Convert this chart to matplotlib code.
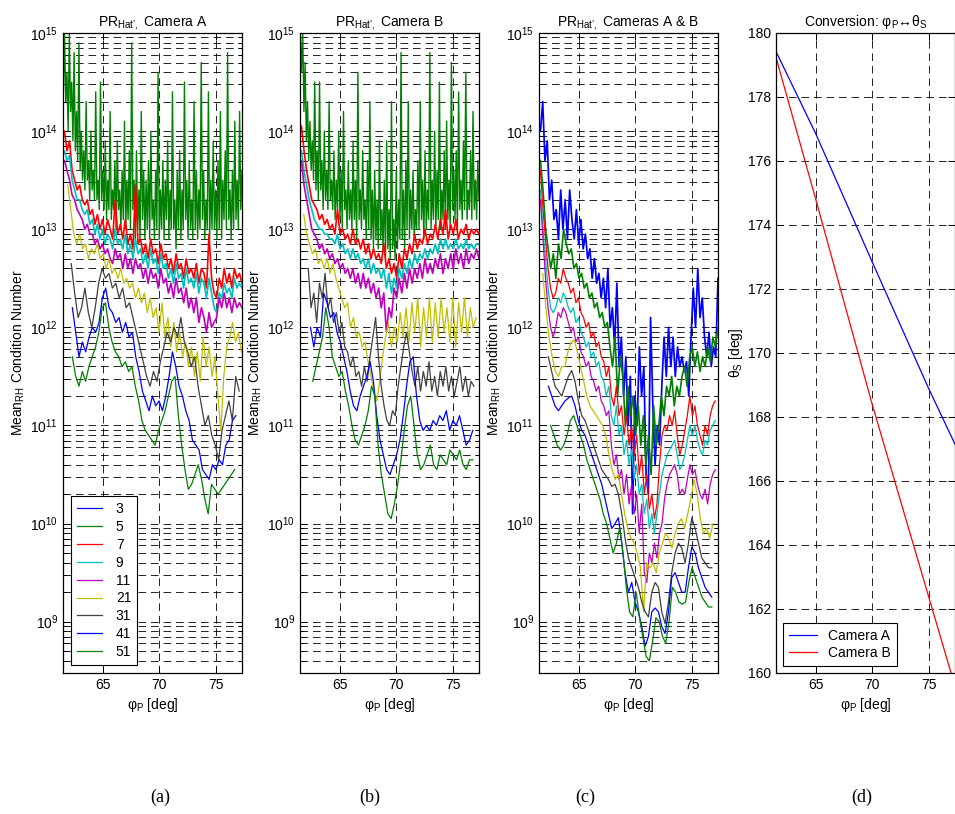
import numpy as np
import matplotlib
matplotlib.use('Agg')
import matplotlib.pyplot as plt
from matplotlib.ticker import FixedLocator, NullFormatter, MultipleLocator

plt.rcParams['font.family'] = ['Liberation Sans', 'DejaVu Sans']
plt.rcParams['font.size'] = 10
plt.rcParams['mathtext.fontset'] = 'custom'
plt.rcParams['mathtext.rm'] = 'Liberation Sans'
plt.rcParams['mathtext.it'] = 'Liberation Sans:italic'
plt.rcParams['mathtext.bf'] = 'Liberation Sans:bold'
plt.rcParams['lines.scale_dashes'] = False

# legend entries (window sizes) and matlab-like colours
windows = ['3', '5', '7', '9', '11', '21', '31', '41', '51']
colors = [(0, 0, 1), (0, 0.5, 0), (1, 0, 0), (0, 0.75, 0.75), (0.75, 0, 0.75),
          (0.75, 0.75, 0), (0.25, 0.25, 0.25), (0, 0, 1), (0, 0.5, 0)]

# ---- Camera A : log10 of mean condition number ----
# window 3 is above the plotted range for the single cameras
a_w3 = []
a_w5 = [14.4, 15.0, 14.3, 14.6, 14.0, 15.0, 14.2, 14.5, 13.9, 14.8, 13.8, 14.2, 13.7, 14.9,
        13.6, 14.0, 13.5, 13.8, 13.4, 14.3, 13.5, 13.7, 13.3, 14.0, 13.4, 13.6, 13.3, 14.4,
        13.3, 13.5, 13.2, 14.5, 13.3, 13.6, 13.2, 13.9, 13.1, 13.5, 13.2, 14.2, 13.1, 13.4,
        13.2, 13.7, 13.0, 13.9, 13.2, 13.4, 13.0, 13.6, 13.1, 14.1, 13.0, 13.5, 13.1, 13.8,
        13.0, 14.9, 13.2, 13.5, 12.9, 13.8, 13.0, 13.4, 12.9, 14.2, 13.1, 13.6, 12.9, 13.5,
        13.0, 13.7, 12.9, 14.0, 13.1, 13.3, 12.9, 13.6, 13.0, 14.6, 12.9, 13.4, 13.0, 13.7,
        12.9, 13.5, 13.1, 13.9, 12.9, 13.4, 13.0, 14.4, 13.0, 13.3, 12.8, 13.6, 13.0, 13.8,
        12.9, 13.4, 13.0, 14.5, 13.1, 13.5, 12.9, 13.7, 13.0, 13.3, 12.9, 14.3, 13.0, 13.6,
        12.9, 13.4, 13.0, 14.7, 13.1, 13.6, 12.9, 13.3, 13.0, 14.4, 12.9, 13.5, 13.0, 13.9,
        13.0, 13.4, 12.9, 13.7, 13.0, 14.2, 12.9, 13.5, 13.1, 13.8, 13.0, 14.8, 13.1, 13.4,
        12.9, 13.6, 13.0, 14.1, 13.1, 13.5, 13.0, 14.2, 13.2, 13.6]
a_w7 = [14.0, 13.8, 13.9, 13.6, 13.5, 13.4, 13.45, 13.3, 13.25, 13.3,
        13.15, 13.2, 13.05, 13.15, 13.0, 13.1, 12.95, 13.1, 13.0, 12.9,
        13.3, 12.95, 13.05, 12.9, 13.1, 12.85, 12.95, 12.8, 13.45, 12.85,
        12.9, 12.75, 12.85, 12.7, 12.9, 12.75, 12.8, 12.65, 12.85, 12.7,
        12.75, 12.6, 12.7, 12.55, 12.75, 12.6, 12.65, 12.5, 12.7, 12.55,
        12.6, 12.5, 12.65, 12.45, 12.6, 12.55, 12.4, 12.95, 12.5, 12.35,
        12.3, 12.5, 12.4, 12.6, 12.45, 12.55, 12.4, 12.6, 12.5, 12.55, 12.45]
a_w9 = [13.8, 13.7, 13.75, 13.5, 13.4, 13.3, 13.3, 13.2, 13.15, 13.2,
        13.05, 13.1, 12.95, 13.05, 12.9, 13.0, 12.85, 12.95, 12.9, 12.8,
        13.0, 12.85, 12.9, 12.8, 12.95, 12.75, 12.85, 12.7, 12.9, 12.75,
        12.8, 12.65, 12.75, 12.6, 12.8, 12.65, 12.7, 12.55, 12.75, 12.6,
        12.65, 12.5, 12.6, 12.45, 12.65, 12.5, 12.55, 12.4, 12.6, 12.45,
        12.5, 12.4, 12.55, 12.35, 12.5, 12.45, 12.3, 12.5, 12.35, 12.2,
        12.15, 12.35, 12.3, 12.45, 12.35, 12.4, 12.3, 12.5, 12.4, 12.45, 12.4]
a_w11 = [13.7, 13.6, 13.5, 13.35, 13.3, 13.2, 13.15, 13.1, 13.0, 13.05,
         12.95, 12.95, 12.85, 12.9, 12.8, 12.85, 12.75, 12.8, 12.7, 12.65,
         12.8, 12.7, 12.75, 12.6, 12.75, 12.6, 12.7, 12.55, 12.7, 12.6,
         12.65, 12.5, 12.6, 12.45, 12.6, 12.5, 12.55, 12.4, 12.6, 12.45,
         12.5, 12.35, 12.45, 12.3, 12.5, 12.35, 12.4, 12.25, 12.4, 12.2,
         12.3, 12.15, 12.3, 12.05, 12.2, 12.1, 11.95, 12.15, 12.0, 12.05,
         12.1, 12.3, 12.2, 12.35, 12.2, 12.3, 12.15, 12.3, 12.2, 12.25, 12.2]
a_w21 = [13.45, 13.2, 12.95, 12.85, 12.95, 12.8, 12.85, 12.7, 12.8,
         12.75, 12.85, 12.7, 12.75, 12.6, 12.7, 12.55, 12.6, 12.5,
         12.6, 12.45, 12.5, 12.4, 12.45, 12.3, 12.4, 12.25, 12.35,
         12.15, 12.3, 12.1, 12.2, 11.95, 12.25, 11.9, 12.1, 11.8,
         12.05, 11.75, 11.95, 11.7, 11.85, 11.6, 11.8, 11.5, 11.75,
         11.45, 11.9, 11.6, 11.8, 11.5, 11.7, 11.3, 10.95, 11.5,
         11.8, 11.9, 12.05, 11.85, 11.95, 11.75]
a_w31 = [12.65, 12.35, 12.1, 12.2, 12.4, 12.15, 12.0, 12.2, 12.45, 12.6,
         12.5, 12.55, 12.4, 12.45, 12.3, 12.4, 12.2, 12.25, 12.1, 11.95,
         11.8, 11.65, 11.5, 11.4, 11.55, 11.45, 11.65, 11.8, 11.95, 11.85,
         12.0, 11.9, 12.1, 11.85, 11.75, 11.6, 11.7, 11.4, 11.2, 11.0,
         11.1, 10.9, 10.8, 10.65, 10.95, 11.1, 11.25, 11.05, 11.5, 11.35]
a_w41 = [12.2, 11.95, 11.7, 11.85, 11.75, 11.9, 12.0, 11.95, 12.05, 12.3,
         12.4, 12.2, 12.15, 12.05, 12.1, 11.95, 12.05, 11.9, 11.95, 11.7,
         11.55, 11.35, 11.25, 11.15, 11.3, 11.2, 11.25, 11.15, 11.3, 11.5,
         11.75, 11.6, 11.4, 11.3, 11.15, 11.05, 10.85, 10.8, 10.75, 10.55,
         10.5, 10.45, 10.6, 10.55, 10.65, 10.6, 10.8, 10.85, 11.05, 11.1]
a_w51 = [11.7, 11.5, 11.4, 11.55, 11.45, 11.6, 11.7, 11.8, 11.95, 12.2,
         12.25, 12.0, 11.85, 11.75, 11.7, 11.6, 11.65, 11.55, 11.6, 11.4,
         11.25, 11.05, 10.95, 10.9, 10.85, 10.8, 10.95, 11.05, 11.15, 11.3,
         11.45, 11.5, 11.1, 10.8, 10.55, 10.35, 10.4, 10.5, 10.6, 10.45,
         10.25, 10.1, 10.4, 10.35, 10.3, 10.35, 10.4, 10.45, 10.5, 10.55]

# ---- Camera B ----
b_w3 = []
b_w5 = [15.0, 14.6, 15.0, 14.2, 14.7, 13.9, 14.3, 13.7, 14.1, 13.6, 13.9, 13.5, 14.5, 13.4,
        13.8, 13.3, 14.5, 13.4, 13.7, 13.2, 14.0, 13.3, 13.6, 13.2, 14.3, 13.3, 13.5, 13.2,
        13.8, 13.1, 13.5, 13.2, 14.0, 13.1, 13.6, 13.0, 14.2, 13.2, 13.4, 13.0, 13.7, 13.1,
        13.4, 13.0, 13.9, 13.1, 13.5, 12.9, 14.6, 13.1, 13.4, 13.0, 13.8, 13.1, 13.3, 12.9,
        13.7, 13.0, 14.3, 12.9, 13.4, 12.8, 13.6, 12.9, 13.3, 12.8, 13.9, 12.9, 13.2, 12.8,
        13.5, 12.7, 13.9, 12.8, 13.2, 12.7, 14.3, 12.8, 13.1, 12.7, 13.6, 12.8, 13.3, 12.9,
        14.8, 12.9, 13.4, 12.8, 13.7, 13.0, 14.3, 12.9, 13.4, 13.0, 13.6, 12.9, 13.2, 13.0,
        13.7, 13.0, 14.3, 13.1, 13.5, 12.9, 13.8, 13.0, 13.4, 13.1, 14.8, 13.0, 13.5, 13.1,
        14.0, 13.0, 13.6, 13.1, 14.5, 13.0, 13.4, 13.1, 13.8, 13.0, 14.1, 13.1, 13.5, 13.0,
        14.7, 13.2, 13.6, 13.1, 13.8, 13.0, 14.4, 13.2, 13.5, 13.1, 13.9, 13.2, 14.6, 13.1,
        13.4, 13.2, 13.8, 13.1, 14.2, 13.2, 13.5, 13.1, 13.7, 13.3]
b_w7 = [14.05, 13.8, 13.6, 13.45, 13.3, 13.25, 13.2, 13.1, 13.15, 13.05,
        13.1, 13.0, 13.05, 12.95, 13.2, 12.95, 13.0, 12.9, 12.95, 12.85,
        13.0, 12.85, 12.9, 12.8, 12.9, 12.75, 12.85, 12.7, 12.8, 12.7,
        12.75, 12.65, 12.85, 12.6, 12.7, 12.55, 12.65, 12.5, 12.75, 12.6,
        12.8, 12.7, 12.85, 12.75, 12.95, 12.8, 12.9, 12.85, 13.0, 12.85,
        12.95, 12.9, 13.05, 12.9, 13.1, 12.95, 13.2, 12.9, 13.05, 12.95,
        13.1, 12.9, 13.0, 12.95, 13.05, 12.9, 13.0, 12.95, 13.0, 12.95]
b_w9 = [13.8, 13.6, 13.45, 13.3, 13.2, 13.1, 13.05, 13.0, 13.0, 12.95,
        12.95, 12.9, 12.9, 12.85, 12.95, 12.8, 12.85, 12.75, 12.8, 12.7,
        12.8, 12.7, 12.75, 12.65, 12.7, 12.6, 12.7, 12.55, 12.65, 12.55,
        12.6, 12.5, 12.6, 12.4, 12.55, 12.35, 12.5, 12.4, 12.6, 12.5,
        12.65, 12.55, 12.7, 12.6, 12.75, 12.65, 12.75, 12.7, 12.8, 12.7,
        12.8, 12.75, 12.85, 12.75, 12.9, 12.8, 12.9, 12.8, 12.85, 12.8,
        12.9, 12.8, 12.85, 12.8, 12.9, 12.8, 12.85, 12.8, 12.85, 12.85]
b_w11 = [13.7, 13.45, 13.3, 13.15, 13.0, 12.95, 12.9, 12.8, 12.85, 12.75,
         12.8, 12.7, 12.75, 12.65, 12.7, 12.6, 12.65, 12.55, 12.6, 12.5,
         12.6, 12.45, 12.55, 12.4, 12.55, 12.4, 12.5, 12.35, 12.45, 12.3,
         12.4, 12.2, 12.35, 11.95, 12.2, 12.1, 12.4, 12.3, 12.5, 12.35,
         12.55, 12.4, 12.6, 12.45, 12.6, 12.5, 12.65, 12.5, 12.7, 12.55,
         12.65, 12.55, 12.7, 12.6, 12.75, 12.55, 12.7, 12.6, 12.75, 12.6,
         12.8, 12.65, 12.75, 12.6, 12.8, 12.65, 12.75, 12.7, 12.8, 12.7]
b_w21 = [13.15, 12.95, 12.85, 12.75, 12.8, 12.65, 12.7, 12.6, 12.7, 12.55,
         12.65, 12.5, 12.4, 12.3, 12.2, 12.25, 12.0, 12.1, 11.9, 11.95,
         11.8, 11.85, 11.65, 11.5, 11.35, 11.25, 11.45, 11.7, 11.9, 12.05,
         11.8, 12.0, 11.85, 12.15, 11.9, 12.2, 11.85, 12.25, 11.95, 12.3,
         11.8, 12.2, 11.9, 12.3, 11.85, 12.25, 11.9, 12.3, 11.95, 12.2,
         11.85, 12.3, 11.8, 12.25, 11.95, 12.3, 11.9, 12.2, 12.0, 12.1]
b_w31 = [12.6, 12.2, 12.35, 12.05, 12.45, 12.3, 12.55, 12.2, 12.3, 12.05,
         12.15, 11.95, 12.05, 11.8, 11.75, 11.6, 11.7, 11.5, 11.55, 11.4,
         11.6, 11.45, 11.7, 11.9, 12.1, 11.7, 11.4, 11.2, 11.05, 11.0,
         11.15, 11.1, 11.4, 11.6, 11.8, 11.95, 11.75, 11.55, 11.4, 11.6,
         11.35, 11.55, 11.4, 11.65, 11.35, 11.5, 11.3, 11.55, 11.4, 11.6,
         11.35, 11.5, 11.3, 11.45, 11.6, 11.35, 11.5, 11.3, 11.45, 11.4]
b_w41 = [12.0, 11.8, 12.0, 11.9, 12.35, 12.25, 12.1, 12.15, 11.95, 11.85,
         11.7, 11.55, 11.35, 11.2, 11.15, 11.3, 11.4, 11.5, 11.65, 11.45,
         11.1, 10.85, 10.7, 10.55, 10.5, 10.6, 10.7, 10.85, 11.1, 11.4,
         11.65, 11.7, 11.3, 11.05, 10.95, 11.0, 10.95, 11.05, 11.0, 11.1,
         11.05, 11.15, 10.95, 11.05, 11.0, 11.1, 10.95, 10.8, 10.85, 10.95]
b_w51 = [11.45, 11.6, 11.75, 11.9, 12.2, 12.0, 11.7, 11.6, 11.5, 11.55,
         11.35, 11.2, 11.0, 10.85, 10.8, 10.9, 11.0, 11.15, 11.4, 11.3,
         10.8, 10.5, 10.3, 10.1, 10.05, 10.2, 10.4, 10.65, 10.95, 11.2,
         11.3, 11.0, 10.7, 10.55, 10.6, 10.7, 10.8, 10.6, 10.55, 10.7,
         10.65, 10.6, 10.75, 10.7, 10.65, 10.75, 10.6, 10.55, 10.65, 10.65]

# ---- Cameras A & B ----
c_w3 = [14.0, 14.3, 13.7, 13.9, 13.3, 13.5, 13.1, 13.2, 12.9, 13.4,
        13.0, 13.3, 12.9, 13.4, 13.1, 12.9, 13.2, 12.85, 13.1, 12.8,
        12.95, 12.7, 12.8, 12.5, 12.7, 12.45, 12.55, 12.3, 12.5, 12.2,
        12.6, 12.0, 12.2, 11.8, 12.45, 11.6, 11.9, 11.3, 11.7, 11.0,
        11.5, 10.1, 11.3, 11.0, 11.8, 11.3, 11.6, 10.5, 10.3, 12.1,
        11.2, 10.6, 11.0, 10.8, 11.4, 11.9, 11.5, 12.0, 11.6, 11.9,
        11.5, 11.8, 11.6, 11.7, 11.55, 11.65, 11.3, 11.9, 12.4, 12.0,
        12.6, 12.1, 12.3, 11.9, 11.7, 11.95, 11.6, 11.8, 11.7, 12.5]
c_w5 = [13.7, 13.4, 13.0, 12.8, 12.6, 12.75, 12.5, 12.85, 12.7, 13.0,
        12.85, 12.75, 12.8, 12.6, 12.65, 12.5, 12.55, 12.4, 12.45, 12.3,
        12.35, 12.2, 12.25, 12.1, 12.15, 12.0, 12.05, 11.8, 11.6, 11.9,
        11.3, 11.7, 11.5, 11.0, 11.4, 11.1, 11.3, 10.9, 11.2, 10.8,
        11.1, 10.6, 10.9, 10.5, 11.2, 10.8, 11.0, 11.3, 11.1, 11.4,
        11.3, 11.5, 11.2, 11.4, 11.3, 11.5, 11.6, 11.4, 11.7, 11.8,
        11.6, 11.75, 11.55, 11.7, 11.6, 11.8, 11.65, 11.9, 11.8, 12.0]
c_w7 = [13.6, 13.2, 12.9, 12.6, 12.4, 12.3, 12.35, 12.5, 12.45, 12.6,
        12.5, 12.45, 12.35, 12.4, 12.25, 12.3, 12.15, 12.1, 12.0, 12.05,
        11.9, 11.95, 11.8, 11.85, 11.7, 11.65, 11.5, 11.6, 11.3, 11.2,
        11.4, 11.1, 11.2, 10.9, 11.1, 10.8, 11.0, 10.7, 10.9, 10.5,
        10.7, 10.3, 10.5, 10.15, 10.3, 10.05, 10.2, 10.6, 10.9, 11.0,
        10.95, 11.1, 11.0, 11.15, 10.9, 10.7, 10.8, 10.95, 11.1, 11.3,
        11.1, 11.2, 11.0, 10.9, 10.8, 11.0, 10.9, 11.1, 11.2, 11.25]
c_w9 = [13.4, 13.0, 12.7, 12.4, 12.2, 12.15, 12.2, 12.3, 12.25, 12.35,
        12.3, 12.2, 12.15, 12.2, 12.05, 12.1, 11.95, 11.9, 11.8, 11.85,
        11.7, 11.75, 11.6, 11.65, 11.5, 11.45, 11.3, 11.4, 11.1, 11.0,
        11.2, 10.9, 11.0, 10.7, 10.85, 10.6, 10.75, 10.45, 10.6, 10.3,
        10.4, 10.1, 10.25, 9.95, 10.1, 9.9, 10.1, 10.3, 10.5, 10.6,
        10.7, 10.75, 10.8, 10.85, 10.7, 10.55, 10.6, 10.7, 10.85, 11.0,
        10.9, 11.0, 10.85, 10.75, 10.7, 10.85, 10.8, 10.95, 11.0, 11.05]
c_w11 = [13.3, 12.9, 12.5, 12.2, 12.0, 11.9, 12.0, 12.15, 12.1, 12.2,
         12.15, 12.05, 11.95, 12.0, 11.85, 11.9, 11.75, 11.7, 11.6, 11.65,
         11.5, 11.45, 11.35, 11.4, 11.25, 11.2, 11.1, 11.15, 10.8, 10.6,
         10.7, 10.45, 10.55, 10.3, 10.5, 10.2, 10.4, 10.1, 10.3, 9.9,
         10.2, 9.5, 9.4, 9.7, 9.6, 9.8, 9.65, 9.9, 10.0, 10.25,
         10.4, 10.5, 10.55, 10.6, 10.5, 10.3, 10.35, 10.3, 10.45, 10.6,
         10.5, 10.55, 10.4, 10.3, 10.25, 10.35, 10.2, 10.4, 10.5, 10.55]
c_w21 = [12.55, 12.2, 11.9, 11.7, 11.55, 11.5, 11.6, 11.6, 11.75, 11.85,
         11.87, 11.75, 11.6, 11.45, 11.3, 11.2, 11.15, 11.1, 11.05, 11.0,
         10.9, 10.7, 10.55, 10.45, 10.5, 10.3, 10.1, 9.95, 9.85, 9.8,
         9.7, 9.55, 9.1, 9.6, 9.55, 9.6, 9.5, 9.7, 9.8, 9.9,
         9.85, 9.75, 9.9, 10.0, 10.05, 9.95, 10.1, 10.25, 10.45, 10.3,
         10.05, 9.9, 9.95, 9.85, 10.0]
c_w31 = [11.7, 11.55, 11.4, 11.35, 11.3, 11.4, 11.5, 11.56, 11.45, 11.25,
         11.1, 11.05, 10.95, 10.85, 10.75, 10.65, 10.55, 10.5, 10.45, 10.38,
         10.4, 10.3, 10.1, 9.85, 9.65, 9.55, 9.45, 9.35, 9.2, 9.1,
         9.05, 9.3, 9.4, 9.35, 9.1, 8.98, 9.2, 9.5, 9.7, 9.8,
         9.75, 9.6, 9.8, 10.06, 9.95, 9.8, 9.65, 9.6, 9.55, 9.55]
c_w41 = [11.4, 11.3, 11.2, 11.15, 11.2, 11.25, 11.28, 11.3, 11.2, 11.05,
         10.95, 10.9, 10.8, 10.7, 10.6, 10.5, 10.4, 10.25, 10.1, 9.95,
         10.0, 10.06, 9.8, 9.5, 9.3, 9.4, 9.2, 9.1, 8.95, 8.75,
         8.85, 9.1, 9.14, 9.1, 8.95, 8.88, 9.1, 9.45, 9.5, 9.4,
         9.3, 9.3, 9.55, 9.76, 9.7, 9.55, 9.45, 9.35, 9.3, 9.25]
c_w51 = [11.0, 10.9, 10.8, 10.75, 10.8, 10.9, 11.05, 11.1, 11.0, 10.9,
         10.8, 10.65, 10.55, 10.45, 10.35, 10.25, 10.1, 10.0, 9.85, 9.7,
         9.8, 9.96, 9.7, 9.35, 9.1, 9.05, 9.3, 9.05, 8.85, 8.65,
         8.6, 8.8, 9.04, 9.0, 8.85, 8.78, 9.0, 9.35, 9.3, 9.2,
         9.18, 9.2, 9.4, 9.55, 9.45, 9.35, 9.25, 9.2, 9.15, 9.15]

# angular span (phi_P, deg) of each trace, in window order
a_span = [(61.5, 77.35), (61.5, 77.35), (61.6, 77.35), (61.6, 77.35), (61.6, 77.35),
          (61.9, 77.3), (62.2, 77.1), (62.3, 76.8), (62.3, 76.7)]
b_span = [(61.5, 77.35), (61.5, 77.35), (61.6, 77.35), (61.6, 77.35), (61.6, 77.35),
          (61.8, 77.1), (62.2, 76.9), (62.4, 76.8), (62.6, 76.8)]
c_span = [(61.6, 77.35), (61.6, 77.35), (61.6, 77.1), (61.6, 77.1), (61.6, 77.1),
          (61.8, 76.9), (62.3, 76.8), (62.3, 76.8), (62.5, 76.8)]

# ---- conversion phi_P -> theta_S ----
conv_phi_a = [61.5, 65.0, 70.0, 75.0, 77.35]
conv_theta_a = [179.4, 176.85, 172.85, 168.9, 167.15]
conv_phi_b = [61.5, 65.0, 70.0, 75.0, 77.0]
conv_theta_b = [179.2, 174.8, 168.4, 162.4, 160.0]

W, H = 955, 814
fig = plt.figure(figsize=(W / 100, H / 100), dpi=100)

XLIM = (61.47, 77.35)
dash = (0, (5.5, 3.5))

# log ticks inside the 3e8 .. 1e15 window
major_y = [10.0 ** e for e in range(9, 16)]
minor_y = [k * 10.0 ** e for e in range(8, 15) for k in range(2, 10) if k * 10.0 ** e >= 3e8]


def frame(left_px):
    ax = fig.add_axes([left_px / W, 1 - 673 / H, 179 / W, 640 / H])
    ax.set_xlim(*XLIM)
    ax.set_xticks([65, 70, 75])
    ax.tick_params(which='both', direction='in', top=True, right=True, labelsize=10)
    ax.tick_params(which='major', length=5, width=0.7)
    ax.tick_params(which='minor', length=3, width=0.7)
    for s in ax.spines.values():
        s.set_linewidth(0.9)
    ax.set_xlabel('φ$_\\mathregular{P}$ [deg]', labelpad=3)
    return ax


def log_panel(left_px, series, spans, title, widths, legend=False):
    ax = frame(left_px)
    ax.set_yscale('log')
    ax.set_ylim(3e8, 1e15)
    ax.yaxis.set_major_locator(FixedLocator(major_y))
    ax.yaxis.set_minor_locator(FixedLocator(minor_y))
    ax.yaxis.set_minor_formatter(NullFormatter())
    ax.grid(True, which='both', axis='y', color='k', linestyle=dash, linewidth=0.6)
    ax.grid(True, which='major', axis='x', color='k', linestyle=dash, linewidth=0.6)
    for vals, (x0, x1), col, lab in zip(series, spans, colors, windows):
        v = np.asarray(vals, dtype=float)
        xs = np.linspace(x0, x1, len(v))
        ax.plot(xs, 10 ** v, color=col, linewidth=widths.get(lab, 0.9), label=lab)
    ax.set_title(title, fontsize=10, pad=5)
    ax.set_ylabel('Mean$_\\mathregular{RH}$ Condition Number', labelpad=2)
    if legend:
        leg = ax.legend(loc='lower left', fontsize=10, handlelength=1.8,
                        handletextpad=1.0, labelspacing=0.28, borderpad=0.4,
                        borderaxespad=0.6, fancybox=False, framealpha=1,
                        edgecolor='k')
        leg.get_frame().set_linewidth(0.8)
        for h in leg.get_lines():
            h.set_linewidth(0.9)
    return ax


single_w = {'5': 1.0, '7': 1.2, '9': 1.2, '11': 1.2}
log_panel(63, [a_w3, a_w5, a_w7, a_w9, a_w11, a_w21, a_w31, a_w41, a_w51], a_span,
          "PR$_\\mathregular{Hat’,}$ Camera A", single_w, legend=True)
log_panel(300, [b_w3, b_w5, b_w7, b_w9, b_w11, b_w21, b_w31, b_w41, b_w51], b_span,
          "PR$_\\mathregular{Hat’,}$ Camera B", single_w)
log_panel(539, [c_w3, c_w5, c_w7, c_w9, c_w11, c_w21, c_w31, c_w41, c_w51], c_span,
          "PR$_\\mathregular{Hat’,}$ Cameras A & B", {'3': 1.25, '5': 1.2})

axd = frame(776)
axd.set_ylim(160, 180)
axd.yaxis.set_major_locator(MultipleLocator(2))
axd.grid(True, which='major', color='k', linestyle=dash, linewidth=0.6)
axd.plot(conv_phi_a, conv_theta_a, color='b', linewidth=0.9, label='Camera A')
axd.plot(conv_phi_b, conv_theta_b, color='r', linewidth=0.9, label='Camera B')
axd.set_title('Conversion: φ$_\\mathregular{P}$↔θ$_\\mathregular{S}$', fontsize=10, pad=5)
axd.set_ylabel('θ$_\\mathregular{S}$ [deg]', labelpad=2)
legd = axd.legend(loc='lower left', fontsize=10, handlelength=2.0, handletextpad=0.8,
                  labelspacing=0.2, borderpad=0.45, borderaxespad=0.5,
                  fancybox=False, framealpha=1, edgecolor='k')
legd.get_frame().set_linewidth(0.8)

for lab, xc in zip(['(a)', '(b)', '(c)', '(d)'], [160, 370, 585, 862]):
    fig.text(xc / W, 1 - 797 / H, lab, ha='center', va='center',
             family='Liberation Serif', fontsize=13)

fig.savefig('out.png', dpi=100)
